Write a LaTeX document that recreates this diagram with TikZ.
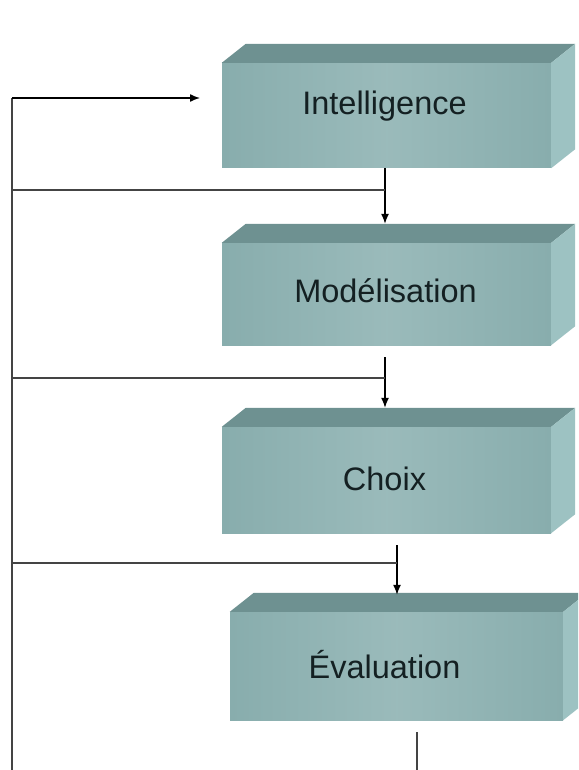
\documentclass[tikz,border=0pt]{standalone}
\usepackage{fontspec}
\setmainfont{Liberation Sans}
\usetikzlibrary{arrows.meta,calc}
\definecolor{frontc}{HTML}{8FB3B3}
\definecolor{frontd}{HTML}{88ADAD}
\definecolor{topc}{HTML}{6E9191}
\definecolor{sidec}{HTML}{9DC2C2}
\definecolor{textc}{HTML}{142022}
\definecolor{linec}{HTML}{444444}
\tikzset{
  frontface/.style={draw=none, left color=frontd, right color=frontd, middle color=frontc!90!white,
    minimum width=329pt, inner sep=0pt},
  label/.style={text=textc, font=\fontsize{32.5}{38}\selectfont, inner sep=0pt},
  topface/.style={fill=topc},
  sideface/.style={fill=sidec},
  conn/.style={draw=linec, line width=1.7pt},
  arr/.style={draw=black, line width=1.4pt, -{Latex[length=10pt,width=8pt]}}
}
\newcommand\boxfaces[1]{%
  \fill[topface] (#1.north west) -- ++(24,-19) -- ($(#1.north east)+(24,-19)$) -- (#1.north east) -- cycle;
  \fill[sideface] (#1.north east) -- ++(24,-19) -- ($(#1.south east)+(24,-19)$) -- (#1.south east) -- cycle;
}
\begin{document}
\begin{tikzpicture}[x=1pt,y=-1pt]
\useasboundingbox (0,0) rectangle (578,770);
\clip (0,0) rectangle (578,770);
\fill[white] (0,0) rectangle (578,770);

% boxes (front faces)
\node[frontface, minimum height=105pt] (b1) at (386.5,115.5) {};
\node[frontface, minimum height=102pt] (b2) at (386.5,294) {};
\node[frontface, minimum height=106pt] (b3) at (386.5,480) {};
\node[frontface, minimum height=108pt, minimum width=333pt] (b4) at (396.5,666) {};
\boxfaces{b1}
\boxfaces{b2}
\boxfaces{b3}
\boxfaces{b4}

% labels
\node[label, anchor=base] (l1) at ($(b1.center)+(-2,-0.5)$) {Intelligence};
\node[label, anchor=base] (l2) at ($(b2.center)+(-1,8)$) {Modélisation};
\node[label, anchor=base] (l3) at ($(b3.center)+(-2,10)$) {Choix};
\node[label, anchor=base] (l4) at ($(b4.center)+(-12,12)$) {Évaluation};

% top edges of the boxes (top faces)
\coordinate (t2) at ($(b2.north)+(0,-19)$);
\coordinate (t3) at ($(b3.north)+(0,-19)$);
\coordinate (t4) at ($(b4.north)+(0,-17)$);

% left feedback line
\coordinate (ltop) at (12,98);
\coordinate (lbot) at (12,770);
\coordinate (a0) at (200,98);
\draw[conn] (ltop) -- (lbot);
\draw[arr] (ltop) -- (a0);

% junctions
\coordinate (j1) at (385,190);
\coordinate (j2) at (385,378);
\coordinate (j3) at (397,563);

% vertical arrows between boxes
\coordinate (s1) at (385,168);
\coordinate (s2) at (385,357);
\coordinate (s3) at (397,545);
\draw[arr] (s1) -- (s1 |- t2);
\draw[arr] (s2) -- (s2 |- t3);
\draw[arr] (s3) -- (s3 |- t4);

% horizontal branches from the left line
\draw[conn] (ltop |- j1) -- (j1);
\draw[conn] (ltop |- j2) -- (j2);
\draw[conn] (ltop |- j3) -- (j3);

% exit line below Evaluation
\coordinate (e1) at (417,732);
\coordinate (e2) at (417,770);
\draw[conn, line width=1.4pt] (e1) -- (e2);
\end{tikzpicture}
\end{document}
